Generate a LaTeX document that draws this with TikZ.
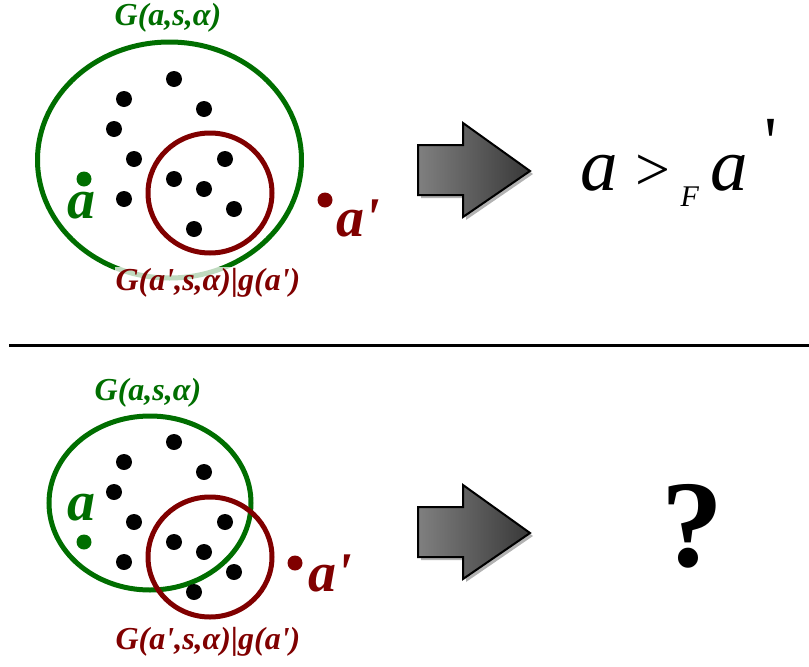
\documentclass[tikz,border=0pt]{standalone}
\usepackage{fontspec}
\setmainfont{Liberation Serif}
\usetikzlibrary{positioning,calc}
\definecolor{setgreen}{RGB}{0,110,0}
\definecolor{setred}{RGB}{128,0,0}
\tikzset{
  dot/.style={circle,fill=black,inner sep=0pt,minimum size=16pt},
  gdot/.style={dot,fill=setgreen,minimum size=15pt},
  rdot/.style={dot,fill=setred,minimum size=15pt},
  gset/.style={draw=setgreen,line width=5pt},
  rset/.style={draw=setred,line width=5pt},
  setlbl/.style={font=\fontsize{32}{32}\selectfont\bfseries\itshape,inner sep=1pt},
  ptlbl/.style={font=\fontsize{56}{56}\selectfont\bfseries\itshape,inner sep=0pt,anchor=base},
  bigarrow/.style={draw=black,line width=2pt,left color=black!50,right color=black!78},
  arrowshadow/.style={fill=black!30},
}

\begin{document}
\begin{tikzpicture}[x=1pt,y=-1pt]
\useasboundingbox (0,0) rectangle (809,667);

% top panel: G(a',s,alpha) inside G(a,s,alpha)
\draw[gset] (169.5,160) ellipse (132 and 118);
\draw[rset] (210,193) ellipse (62 and 60);
\foreach \x/\y [count=\i] in {174/79,124/99,204/109,114/129,134/159,225/159,
                              174/179,204/189,124/199,234/209,194/229}
  \node[dot] (t\i) at (\x,\y) {};
\node[gdot] (ta) at (84,179) {};
\node[rdot] (tb) at (325,200) {};
\node[ptlbl,text=setgreen] (tal) at (81,218) {a};
\node[ptlbl,text=setred] (tbl) at (358,236) {a\textquotesingle};
\node[setlbl,text=setgreen] (tG) at (168,18) {G(a,s,α)};
\node[setlbl,text=setred,fill=white,fill opacity=0.75,text opacity=1] (tg) at (208,283) {G(a\textquotesingle,s,α)|g(a\textquotesingle)};

% bottom panel: the two sets overlap
\draw[gset] (150,503) ellipse (101 and 87);
\draw[rset] (210,557) ellipse (62 and 60);
\foreach \x/\y [count=\i] in {174/442,124/462,204/472,114/492,134/522,225/522,
                              174/542,204/552,124/562,234/572,194/592}
  \node[dot] (b\i) at (\x,\y) {};
\node[gdot] (ba) at (84,542) {};
\node[rdot] (bb) at (295,563) {};
\node[ptlbl,text=setgreen] (bal) at (81,520) {a};
\node[ptlbl,text=setred] (bbl) at (330,591) {a\textquotesingle};
\node[setlbl,text=setgreen] (bG) at (148,393) {G(a,s,α)};
\node[setlbl,text=setred] (bg) at (208,642) {G(a\textquotesingle,s,α)|g(a\textquotesingle)};

% separator
\coordinate (sepl) at (9,345);
\coordinate (sepr) at (809,345);
\draw[line width=3pt] (sepl) -- (sepr);

% block arrows
\foreach \dy in {0,362} {
  \fill[arrowshadow,shift={(3,3+\dy)}] (418,145) -- (463,145) -- (463,123) -- (530,171)
    -- (463,217) -- (463,195) -- (418,195) -- cycle;
  \draw[bigarrow,shift={(0,\dy)}] (418,145) -- (463,145) -- (463,123) -- (530,171)
    -- (463,217) -- (463,195) -- (418,195) -- cycle;
}

% results
\node[anchor=base west,inner sep=0pt] (res) at (580,190)
  {{\fontsize{75}{75}\selectfont\itshape a}\hspace{18pt}{\fontsize{62}{62}\selectfont >}\hspace{10pt}\raisebox{-16pt}{\fontsize{30}{30}\selectfont\itshape F}\hspace{12pt}{\fontsize{75}{75}\selectfont\itshape a}\hspace{16pt}\raisebox{24pt}{\fontsize{72}{72}\selectfont\textquotesingle}};
\node[font=\fontsize{124}{124}\selectfont\bfseries,inner sep=0pt] (qm) at (692,526) {?};

\end{tikzpicture}
\end{document}
